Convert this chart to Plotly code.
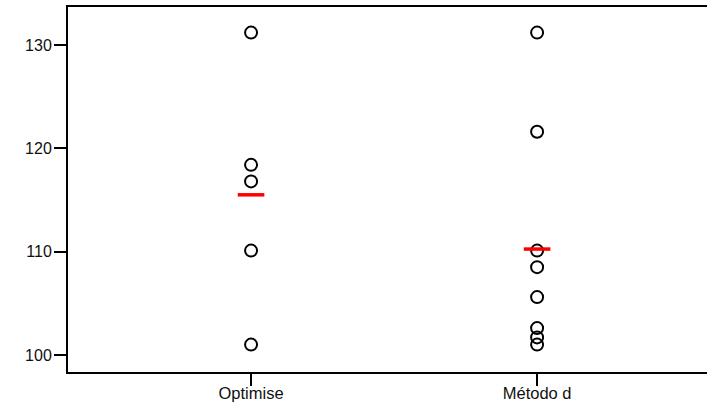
import plotly.graph_objects as go

categories = ["Optimise", "Método d"]
optimise_values = [131.2, 118.4, 116.8, 110.1, 101.0]
metodo_values = [131.2, 121.6, 110.1, 108.5, 105.6, 102.6, 101.7, 101.0]
mean_values = [115.5, 110.25]
y_ticks = [100, 110, 120, 130]

fig = go.Figure()
for cat, vals in zip(categories, [optimise_values, metodo_values]):
    fig.add_trace(go.Scatter(
        x=[cat] * len(vals), y=vals, mode="markers",
        marker=dict(symbol="circle-open", size=12, color="black",
                    line=dict(width=2, color="black")),
        showlegend=False, hoverinfo="y", cliponaxis=False))

fig.add_trace(go.Scatter(
    x=categories, y=mean_values, mode="markers",
    marker=dict(symbol="line-ew", size=19, color="red",
                line=dict(width=3.5, color="red")),
    showlegend=False, hoverinfo="y"))

fig.update_layout(
    width=707, height=415,
    margin=dict(l=68, r=0, t=7, b=43, autoexpand=False),
    paper_bgcolor="white", plot_bgcolor="white",
    font=dict(family="Liberation Sans, Arial, sans-serif", size=15, color="#111"),
    xaxis=dict(type="category", categoryorder="array", categoryarray=categories,
               range=[-0.64, 1.594], showline=True, linecolor="black", linewidth=2,
               mirror=True, ticks="outside", ticklen=12, tickwidth=1.5,
               tickcolor="black", showgrid=False, zeroline=False, automargin=False,
               ticklabelstandoff=-7, tickfont=dict(size=16.5)),
    yaxis=dict(range=[98.35, 133.68], tickvals=y_ticks, showline=True,
               linecolor="black", linewidth=2, ticks="outside", ticklen=12,
               tickwidth=2, tickcolor="black", showgrid=False, zeroline=False,
               automargin=False, ticklabelstandoff=-1, tickfont=dict(size=16)),
)

fig.write_html("out.html", config={"displayModeBar": False},
               post_script="document.body.style.margin='0';document.body.style.overflow='hidden';")
